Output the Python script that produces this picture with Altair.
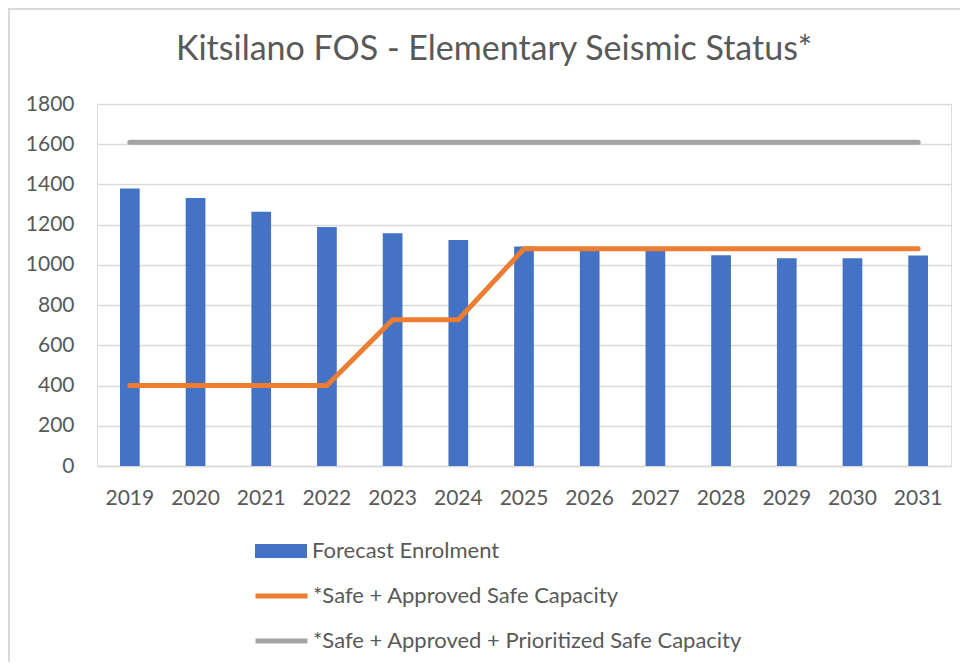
import altair as alt
import pandas as pd

years = ["2019", "2020", "2021", "2022", "2023", "2024", "2025",
         "2026", "2027", "2028", "2029", "2030", "2031"]
enrolment = [1380, 1332, 1264, 1188, 1157, 1124, 1091, 1075, 1072, 1048, 1033, 1033, 1047]
safe_capacity = [400, 400, 400, 400, 727, 727, 1080, 1080, 1080, 1080, 1080, 1080, 1080]
prioritized_capacity = [1610, 1610, 1610, 1610, 1610, 1610, 1610, 1610, 1610, 1610, 1610, 1610, 1610]

bar_name = "Forecast Enrolment"
safe_name = "*Safe + Approved Safe Capacity"
prio_name = "*Safe + Approved + Prioritized Safe Capacity"

bar_df = pd.DataFrame({"year": years, "value": enrolment, "series": bar_name})
line_df = pd.concat([
    pd.DataFrame({"year": years, "value": prioritized_capacity, "series": prio_name, "order": 0}),
    pd.DataFrame({"year": years, "value": safe_capacity, "series": safe_name, "order": 1}),
])

TEXT = "#595959"
GRID = "#D9D9D9"
FONT = "Lato"

x_enc = alt.X("year:O", title=None,
              scale=alt.Scale(paddingInner=0.7, paddingOuter=0.35),
              axis=alt.Axis(labelAngle=0, labelFontSize=21, labelFont=FONT, labelColor=TEXT,
                            labelPadding=21, ticks=False, domainColor=GRID, domainWidth=1.3,
                            grid=False))
y_enc = alt.Y("value:Q", title=None,
              scale=alt.Scale(domain=[0, 1800], nice=False),
              axis=alt.Axis(values=list(range(0, 1801, 200)), format="d", labelFontSize=21,
                            labelFont=FONT, labelColor=TEXT, labelPadding=23, ticks=False,
                            domain=False, gridColor=GRID, gridWidth=1.3))

bars = alt.Chart(bar_df).mark_bar(color="#4472C4").encode(
    x=x_enc,
    y=y_enc,
    fill=alt.Fill("series:N",
                  scale=alt.Scale(domain=[bar_name], range=["#4472C4"]),
                  legend=alt.Legend(orient="none", legendX=158, legendY=434, title=None,
                                    padding=0, symbolType="M-1,-0.27H1V0.27H-1Z",
                                    symbolSize=2704, symbolStrokeWidth=0, clipHeight=26,
                                    labelFontSize=22, labelFont=FONT, labelColor=TEXT,
                                    labelOffset=5, labelLimit=600)),
)

lines = alt.Chart(line_df).mark_line(strokeWidth=5, strokeCap="round", strokeJoin="round").encode(
    x=x_enc,
    y=y_enc,
    order=alt.Order("order:Q"),
    detail="series:N",
    stroke=alt.Stroke("series:N",
                      scale=alt.Scale(domain=[safe_name, prio_name], range=["#ED7D31", "#A5A5A5"]),
                      sort=[safe_name, prio_name],
                      legend=alt.Legend(orient="none", legendX=156, legendY=479, title=None,
                                        padding=0, symbolType="M-1,0H1", symbolSize=2704,
                                        symbolStrokeWidth=5, clipHeight=26, rowPadding=19,
                                        labelFontSize=22, labelFont=FONT, labelColor=TEXT,
                                        labelOffset=3, labelLimit=600)),
)

gray_line = lines.transform_filter(alt.datum.series == prio_name)
orange_line = lines.transform_filter(alt.datum.series == safe_name)

frame_left = alt.Chart(bar_df).mark_rule(color=GRID, strokeWidth=2).encode(
    x=alt.value(-88), y=alt.value(-96), y2=alt.value(566))
frame_top = alt.Chart(bar_df).mark_rule(color=GRID, strokeWidth=1.5).encode(
    x=alt.value(-89), x2=alt.value(871), y=alt.value(-95))

chart = alt.layer(bars, gray_line, orange_line, frame_left, frame_top).properties(
    width=854,
    height=362,
    title=alt.TitleParams("Kitsilano FOS - Elementary Seismic Status*", fontSize=34, font=FONT,
                          color=TEXT, fontWeight="normal", anchor="middle", offset=-87,
                          dx=-30, baseline="alphabetic"),
    padding={"left": 89, "top": 96, "right": 9, "bottom": 196},
    autosize=alt.AutoSizeParams(type="none"),
).configure_view(stroke=None).configure(background="white")

chart.save("out.html", embed_options={"renderer": "svg", "actions": False})
